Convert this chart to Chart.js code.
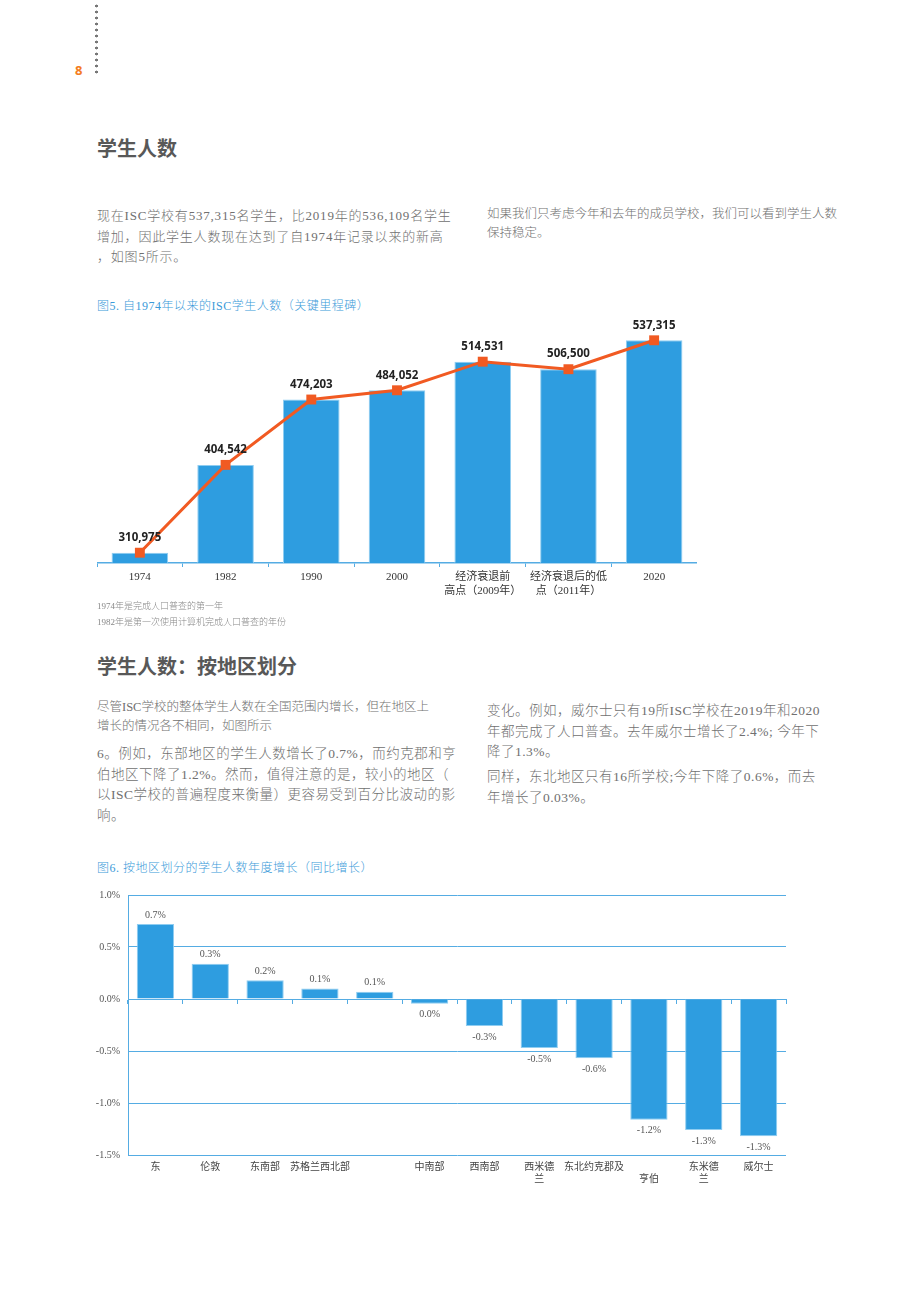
<!DOCTYPE html>
<html lang="zh-CN">
<head>
<meta charset="utf-8">
<title>学生人数</title>
<script src="https://cdn.jsdelivr.net/npm/chart.js@4.4.1/dist/chart.umd.min.js"></script>
<style>
  html, body { margin: 0; padding: 0; background: #fff; }
  #page { position: relative; width: 920px; height: 1302px; overflow: hidden;
    font-family: "Liberation Serif", "Noto Sans CJK SC", serif; color: #707070; }
  .abs { position: absolute; white-space: nowrap; }
  .dots { left: 95px; top: 3px; width: 3px; height: 72px;
    background-image: radial-gradient(circle, #777 1.2px, transparent 1.7px);
    background-size: 3px 6px; }
  .pnum { left: 75px; top: 61px; font: bold 13px "Noto Sans", sans-serif; color: #f47c20; }
  h2 { margin: 0; font: bold 20px "Noto Sans CJK SC", sans-serif; color: #585858; }
  .p13 { font-size: 13px; line-height: 20.5px; font-weight: 300; letter-spacing: 0.8px; }
  .p125 { font-size: 12.5px; line-height: 19px; font-weight: 300; }
  .p135 { font-size: 13.5px; line-height: 20.5px; font-weight: 300; letter-spacing: 0.5px; }
  .cap { font-size: 12px; color: #3a9ad9; font-weight: 300; letter-spacing: 0.5px; }
  .note { font-size: 9px; color: #888; line-height: 16px; font-weight: 300; }
</style>
</head>
<body>
<div id="page">
  <div class="abs dots"></div>
  <div class="abs pnum">8</div>

  <h2 class="abs" style="left:97px; top:133px;">学生人数</h2>
  <div class="abs p13" style="left:97px; top:206px;">现在ISC学校有537,315名学生，比2019年的536,109名学生<br>增加，因此学生人数现在达到了自1974年记录以来的新高<br>，如图5所示。</div>
  <div class="abs p125" style="left:487px; top:205px;">如果我们只考虑今年和去年的成员学校，我们可以看到学生人数<br>保持稳定。</div>

  <div class="abs cap" style="left:97px; top:296px;">图5. 自1974年以来的ISC学生人数（关键里程碑）</div>
  <div class="abs" style="left:97px; top:300px; width:600px; height:310px;"><canvas id="chartStudents"></canvas></div>
  <div class="abs note" style="left:97px; top:598px;">1974年是完成人口普查的第一年<br>1982年是第一次使用计算机完成人口普查的年份</div>

  <h2 class="abs" style="left:97px; top:651px;">学生人数：按地区划分</h2>
  <div class="abs p125" style="left:97px; top:698px;">尽管ISC学校的整体学生人数在全国范围内增长，但在地区上<br>增长的情况各不相同，如图所示</div>
  <div class="abs p135" style="left:97px; top:744px;">6。例如，东部地区的学生人数增长了0.7%，而约克郡和亨<br>伯地区下降了1.2%。然而，值得注意的是，较小的地区（<br>以ISC学校的普遍程度来衡量）更容易受到百分比波动的影<br>响。</div>
  <div class="abs p135" style="left:487px; top:701px;">变化。例如，威尔士只有19所ISC学校在2019年和2020<br>年都完成了人口普查。去年威尔士增长了2.4%; 今年下<br>降了1.3%。</div>
  <div class="abs p135" style="left:487px; top:767px;">同样，东北地区只有16所学校;今年下降了0.6%，而去<br>年增长了0.03%。</div>

  <div class="abs cap" style="left:97px; top:858px;">图6. 按地区划分的学生人数年度增长（同比增长）</div>
  <div class="abs" style="left:90px; top:880px; width:700px; height:310px;"><canvas id="chartRegions"></canvas></div>
</div>

<script>
// 图5 数据
const yearLabels = ["1974", "1982", "1990", "2000", ["经济衰退前", "高点（2009年）"], ["经济衰退后的低", "点（2011年）"], "2020"];
const pupilCounts = [310975, 404542, 474203, 484052, 514531, 506500, 537315];

// 图6 数据
const regionLabels = ["东", "伦敦", "东南部", "苏格兰西北部", "", "中南部", "西南部", ["西米德", "兰"], "东北约克郡及", ["", "亨伯"], ["东米德", "兰"], "威尔士"];
const growthPct = [0.72, 0.34, 0.18, 0.10, 0.07, -0.045, -0.26, -0.47, -0.57, -1.16, -1.26, -1.32];
const growthText = ["0.7%", "0.3%", "0.2%", "0.1%", "0.1%", "0.0%", "-0.3%", "-0.5%", "-0.6%", "-1.2%", "-1.3%", "-1.3%"];

const BLUE = "#2e9de0";
const BLUE_EDGE = "#8fcdf1";
const AXIS_BLUE = "#55ace3";
const ORANGE = "#f15a22";
const SERIF = "'Liberation Serif', 'Noto Sans CJK SC', serif";

Chart.defaults.animation = false;
Chart.defaults.responsive = true;
Chart.defaults.maintainAspectRatio = false;

const fmtInt = n => n.toLocaleString("en-US");

// 图5的数值标签
const countLabels = {
  id: "countLabels",
  afterDatasetsDraw(chart) {
    const meta = chart.getDatasetMeta(1);
    const ctx = chart.ctx;
    ctx.save();
    ctx.font = "bold 11.5px 'Noto Sans', sans-serif";
    ctx.fillStyle = "#222";
    ctx.textAlign = "center";
    ctx.textBaseline = "middle";
    meta.data.forEach((bar, i) => {
      ctx.fillText(fmtInt(pupilCounts[i]), bar.x, bar.y - 15);
    });
    ctx.restore();
  }
};

// 图6的数值标签
const growthLabels = {
  id: "growthLabels",
  afterDatasetsDraw(chart) {
    const meta = chart.getDatasetMeta(0);
    const ctx = chart.ctx;
    ctx.save();
    ctx.font = "10px " + SERIF;
    ctx.fillStyle = "#555";
    ctx.textAlign = "center";
    ctx.textBaseline = "middle";
    meta.data.forEach((bar, i) => {
      const y = growthPct[i] >= 0 ? bar.y - 9 : bar.y + 11;
      ctx.fillText(growthText[i], bar.x, y);
    });
    ctx.restore();
  }
};

new Chart(document.getElementById("chartStudents"), {
  type: "bar",
  data: {
    labels: yearLabels,
    datasets: [
      {
        type: "line",
        data: pupilCounts,
        borderColor: ORANGE,
        backgroundColor: ORANGE,
        borderWidth: 3,
        pointStyle: "rect",
        pointRadius: 7,
        pointBorderWidth: 0,
        tension: 0,
        order: 0
      },
      {
        type: "bar",
        data: pupilCounts,
        backgroundColor: BLUE,
        borderColor: BLUE_EDGE,
        borderWidth: { top: 1, left: 1, right: 1, bottom: 0 },
        barPercentage: 0.66,
        categoryPercentage: 1,
        order: 1
      }
    ]
  },
  options: {
    layout: { autoPadding: false, padding: { top: 19, left: 0, right: 0, bottom: 0 } },
    plugins: { legend: { display: false }, tooltip: { enabled: false } },
    scales: {
      x: {
        offset: true,
        grid: { offset: true, drawOnChartArea: false, drawTicks: true, tickLength: 4, color: AXIS_BLUE },
        border: { display: true, color: AXIS_BLUE, width: 1.5 },
        ticks: { font: { family: SERIF, size: 11 }, color: "#333", padding: 4, maxRotation: 0, autoSkip: false },
        afterFit: s => { s.height = 47; }
      },
      y: {
        display: false,
        min: 300000,
        max: 560000
      }
    }
  },
  plugins: [countLabels]
});

new Chart(document.getElementById("chartRegions"), {
  type: "bar",
  data: {
    labels: regionLabels,
    datasets: [{
      data: growthPct,
      backgroundColor: BLUE,
      borderColor: BLUE_EDGE,
      borderWidth: 1,
      borderSkipped: "start",
      barPercentage: 0.68,
      categoryPercentage: 1
    }]
  },
  options: {
    layout: { autoPadding: false, padding: { top: 15, left: 0, right: 4, bottom: 0 } },
    plugins: { legend: { display: false }, tooltip: { enabled: false } },
    scales: {
      x: {
        offset: true,
        grid: { display: false, drawTicks: false },
        border: { display: false },
        ticks: { font: { family: SERIF, size: 10 }, color: "#444", padding: 6, maxRotation: 0, autoSkip: false },
        afterFit: s => { s.height = 35; }
      },
      xz: {
        type: "category",
        axis: "x",
        position: { y: 0 },
        offset: true,
        grid: { offset: true, drawOnChartArea: false, drawTicks: true, tickLength: 4, color: AXIS_BLUE },
        border: { display: true, color: AXIS_BLUE },
        ticks: { display: false }
      },
      y: {
        min: -1.5,
        max: 1.0,
        grid: { color: AXIS_BLUE, drawTicks: false },
        border: { display: true, color: AXIS_BLUE },
        ticks: {
          stepSize: 0.5,
          padding: 8,
          font: { family: SERIF, size: 10 },
          color: "#555",
          callback: v => v.toFixed(1) + "%"
        },
        afterFit: s => { s.width = 38; }
      }
    }
  },
  plugins: [growthLabels]
});
</script>
</body>
</html>
